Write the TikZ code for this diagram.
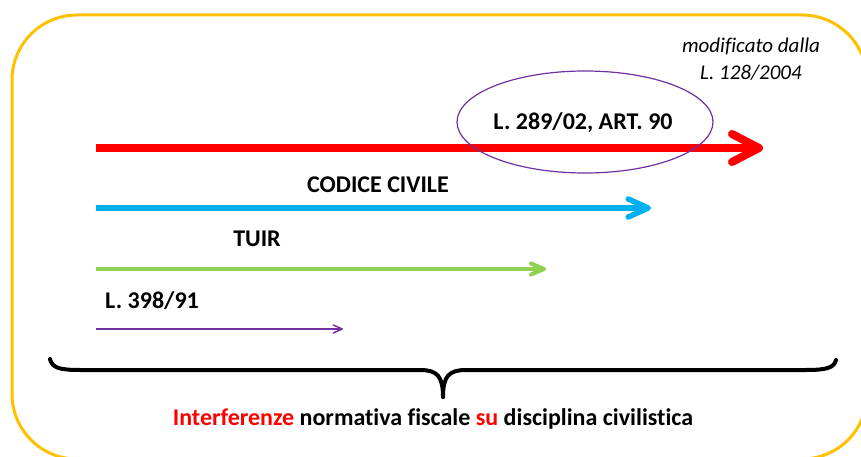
\documentclass[tikz,border=0pt]{standalone}
\usepackage{fontspec}
\setmainfont{Carlito}[Ligatures=NoCommon]
\usetikzlibrary{arrows.meta,shapes.geometric}
\definecolor{gold}{HTML}{FFC000}
\definecolor{lawblue}{HTML}{00B0F0}
\definecolor{lawgreen}{HTML}{92D050}
\definecolor{lawpurple}{HTML}{7030A0}
\tikzset{
  lbl/.style={font=\bfseries\fontsize{24}{28}\selectfont,inner sep=0pt,anchor=base},
  note/.style={font=\itshape\fontsize{21}{25}\selectfont,inner sep=0pt,anchor=base},
}
\begin{document}
\begin{tikzpicture}[x=1pt,y=-1pt]
                \clip (0,0) rectangle (861,457);
                \draw[gold,line width=3pt,rounded corners=65pt] (12,15) rectangle (867,459);
                % starts and ends of the laws
                \coordinate (redS) at (96,148);
                \coordinate (redE) at (763,148);
                \coordinate (blueS) at (96,208);
                \coordinate (blueE) at (651,208);
                \coordinate (greenS) at (96,269);
                \coordinate (greenE) at (546,269);
                \coordinate (purpleS) at (96,329);
                \coordinate (purpleE) at (343,329);
                \draw[red,line width=8pt,-{Straight Barb[length=27pt,width=28pt,round]}] (redS) -- (redE);
                \draw[lawblue,line width=5.5pt,-{Straight Barb[length=20pt,width=18pt,round]}] (blueS) -- (blueE);
                \draw[lawgreen,line width=4pt,-{Straight Barb[length=13pt,width=11pt,round]}] (greenS) -- (greenE);
                \draw[lawpurple,line width=1.5pt,-{Straight Barb[length=9pt,width=8pt,round]}] (purpleS) -- (purpleE);
                \node[draw=lawpurple,line width=1.2pt,ellipse,minimum width=256pt,minimum height=102pt,inner sep=0pt] (E) at (585,122) {};
                \node[lbl] (L289) at (583,130) {L. 289/02, ART. 90};
                \node[note] (mod1) at (751,53) {modificato dalla};
                \node[note] (mod2) at (751,80) {L. 128/2004};
                \node[lbl] (CC) at (378,192) {CODICE CIVILE};
                \node[lbl] (TUIR) at (257,246) {TUIR};
                \node[lbl] (L398) at (152,308) {L. 398/91};
                % brace
                \coordinate (BL) at (50,359);
                \coordinate (BM) at (443,397);
                \coordinate (BR) at (836,360);
                \draw[line width=4pt,line cap=round] (BL) .. controls (52,368) and (60,370) .. (80,370) -- (420,370) .. controls (437,370) and (443,376) .. (BM);
                \draw[line width=4pt,line cap=round] (BR) .. controls (834,368) and (826,370) .. (806,370) -- (466,370) .. controls (449,370) and (443,376) .. (BM);
                \node[lbl] (T) at (433,425) {\textcolor{red}{Interferenze} normativa fiscale \textcolor{red}{su} disciplina civilistica};
\end{tikzpicture}
\end{document}
